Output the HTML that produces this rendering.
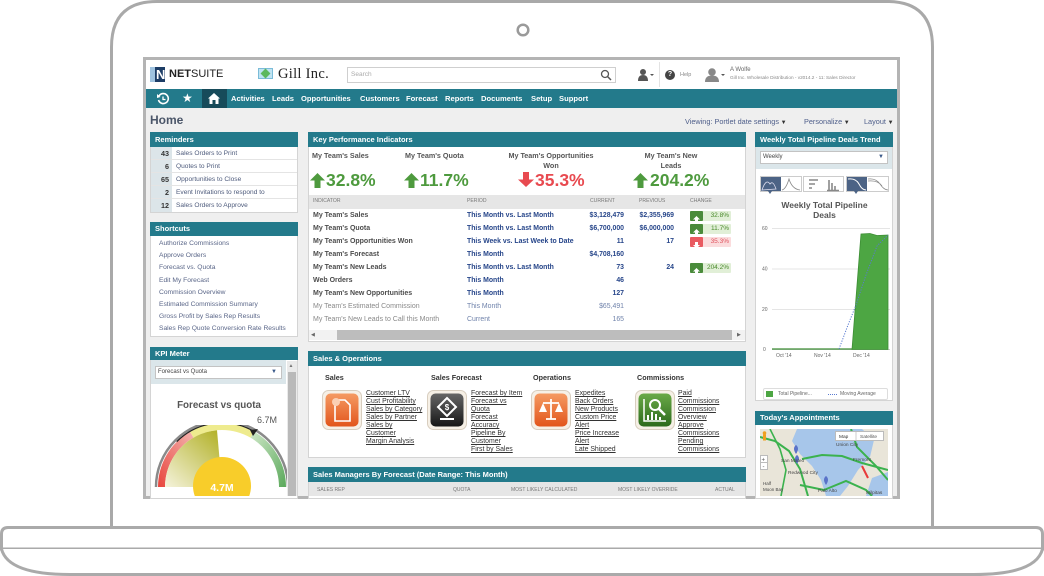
<!DOCTYPE html>
<html><head><meta charset="utf-8">
<style>
*{margin:0;padding:0;box-sizing:border-box}
html,body{width:1044px;height:576px;overflow:hidden;background:#fff}
body{position:relative;font-family:"Liberation Sans",Arial,sans-serif}
.a{position:absolute;white-space:nowrap}
.h{position:absolute;background:#237a8b;color:#fff;font-weight:bold;font-size:7.5px;line-height:14px;height:14px;padding-left:5px;white-space:nowrap;overflow:hidden}
.w{position:absolute;background:#fff;border:1px solid #d4d4d4}
.nav{position:absolute;top:94px;color:#fff;font-weight:bold;font-size:7.6px;line-height:9px;white-space:nowrap}
.rn{position:absolute;left:151px;width:21px;height:13px;background:#dce5e9;font-weight:bold;font-size:7.2px;line-height:13px;text-align:right;padding-right:3px;color:#333}
.rt{position:absolute;left:176px;font-size:6.6px;line-height:13px;color:#4e5b7c;white-space:nowrap}
.rl{position:absolute;left:151px;width:146px;height:1px;background:#e4e4e4}
.sc{position:absolute;left:159px;font-size:6.7px;line-height:10px;color:#5a6688;white-space:nowrap}
.ti{position:absolute;font-weight:bold;font-size:7.2px;line-height:10px;color:#555;white-space:nowrap;text-align:center}
.big{position:absolute;top:171px;font-weight:bold;font-size:17.5px;line-height:18px;white-space:nowrap}
.g{color:#4e9a3e}.r{color:#e84a50}
.th{position:absolute;top:197px;font-size:5.1px;line-height:8px;color:#7a7a7a;white-space:nowrap}
.ci{position:absolute;left:313px;font-weight:bold;font-size:7px;line-height:10px;color:#4c4c4c;white-space:nowrap}
.cp{position:absolute;left:467px;font-weight:bold;font-size:6.9px;line-height:10px;color:#27468a;white-space:nowrap}
.cc{position:absolute;right:420px;font-weight:bold;font-size:6.9px;line-height:10px;color:#27468a;white-space:nowrap;text-align:right}
.cv{position:absolute;right:370px;font-weight:bold;font-size:6.9px;line-height:10px;color:#27468a;white-space:nowrap;text-align:right}
.lt{font-weight:normal !important;color:#8a8a8a !important}
.lb{font-weight:normal !important;color:#7083ab !important}
.bd{position:absolute;left:690px;width:41px;height:10px;background:#e1efd7;border-radius:1px}
.bd i{position:absolute;left:0;top:0;width:13px;height:10px;background:#4a8b3b;border-radius:1px}
.bd b{position:absolute;right:2px;top:0;font-size:6.5px;line-height:10px;color:#4a8a2c;font-weight:normal}
.bd.rd{background:#fbdcdd}.bd.rd i{background:#e95a61}.bd.rd b{color:#e05560}
.hd{position:absolute;top:373px;font-weight:bold;font-size:7.2px;line-height:10px;color:#333;white-space:nowrap}
.ln{position:absolute;top:390px;font-size:6.9px;line-height:8px;color:#333;text-decoration:underline;white-space:nowrap}
.sm{position:absolute;top:486px;font-size:5px;line-height:8px;color:#777;white-space:nowrap}
.rk{position:absolute;top:117px;font-size:7.3px;line-height:9px;color:#4e5e8a;white-space:nowrap}
.ax{position:absolute;font-size:5px;line-height:6px;color:#666;white-space:nowrap}
</style></head><body>

<!-- laptop -->
<svg width="1044" height="576" style="position:absolute;left:0;top:0">
<path d="M111.5 527 V47 Q111.5 1.5 157 1.5 H887 Q932.5 1.5 932.5 47 V527" fill="#fff" stroke="#a9a9a9" stroke-width="3"/>
<circle cx="523" cy="30" r="5.3" fill="none" stroke="#9a9a9a" stroke-width="2.5"/>
<rect x="144.5" y="58.5" width="754" height="439" fill="#efefef" stroke="#b4b4b4" stroke-width="3"/>
<path d="M1.5 534 Q1.5 527.5 8 527.5 H1036 Q1042.5 527.5 1042.5 534 V549 H1.5 Z" fill="#fff" stroke="#aaa" stroke-width="3"/>
<path d="M1.5 549 Q8 574.5 70 574.5 H974 Q1036 574.5 1042.5 549" fill="#fff" stroke="#aaa" stroke-width="3"/>
</svg>

<!-- header -->
<div class="a" style="left:146px;top:60px;width:751px;height:29px;background:#fff"></div>
<div class="a" style="left:150px;top:67px;width:15px;height:15px;background:#1d3d66"></div>
<div class="a" style="left:150px;top:67px;width:5px;height:15px;background:#9fc3e0"></div>
<div class="a" style="left:156px;top:67px;font-weight:bold;font-size:13px;line-height:15px;color:#fff">N</div>
<div class="a" style="left:169px;top:69px;font-weight:bold;font-size:11px;line-height:11px;color:#222">NET<span style="font-weight:normal">SUITE</span></div>
<div class="a" style="left:258px;top:68px;width:15px;height:11px;background:#bfe3f3;border:1px solid #7bbcd8"></div>
<div class="a" style="left:262px;top:70px;width:7px;height:7px;background:#5cb85c;transform:rotate(45deg)"></div>
<div class="a" style="left:278px;top:67px;font-family:'Liberation Serif',serif;font-size:14.5px;line-height:15px;color:#222;letter-spacing:0.3px">Gill Inc.</div>
<div class="a" style="left:347px;top:67px;width:269px;height:16px;border:1px solid #cfcfcf;background:#fff"></div>
<div class="a" style="left:351px;top:71px;font-size:6.5px;line-height:8px;color:#aaa">Search</div>
<svg class="a" style="left:600px;top:69px" width="12" height="12"><circle cx="5" cy="5" r="3.5" fill="none" stroke="#555" stroke-width="1.3"/><line x1="7.5" y1="7.5" x2="11" y2="11" stroke="#555" stroke-width="1.5"/></svg>
<svg class="a" style="left:637px;top:68px" width="18" height="14"><circle cx="6" cy="4" r="3" fill="#555"/><path d="M1 13 Q1 7 6 7 Q11 7 11 13Z" fill="#555"/><path d="M13 6 l2 2 l2 -2z" fill="#555"/></svg>
<div class="a" style="left:659px;top:62px;width:1px;height:25px;background:#e3e3e3"></div>
<div class="a" style="left:665px;top:70px;width:10px;height:10px;border-radius:50%;background:#444;color:#fff;font-weight:bold;font-size:7px;line-height:10px;text-align:center">?</div>
<div class="a" style="left:680px;top:72px;font-size:5.5px;line-height:7px;color:#888">Help</div>
<svg class="a" style="left:703px;top:67px" width="24" height="16"><circle cx="9" cy="5" r="3.8" fill="#888"/><path d="M2 15 Q2 8.5 9 8.5 Q16 8.5 16 15Z" fill="#888"/><path d="M18 7 l2 2 l2 -2z" fill="#555"/></svg>
<div class="a" style="left:730px;top:67px;font-size:6px;line-height:7px;color:#666">A Wolfe</div>
<div class="a" style="left:730px;top:75px;font-size:4.7px;line-height:6px;color:#888">Gill Inc. Wholesale Distribution - v2014.2 - 11: Sales Director</div>

<!-- nav -->
<div class="a" style="left:146px;top:89px;width:751px;height:19px;background:#237a8b"></div>
<svg class="a" style="left:156px;top:92px" width="14" height="14"><path d="M3 4 A5 5 0 1 1 2.5 8" fill="none" stroke="#fff" stroke-width="1.6"/><path d="M1 2 L4.5 5 L1 6Z" fill="#fff"/><path d="M7 4.5 V7.5 H9.5" fill="none" stroke="#fff" stroke-width="1.3"/></svg>
<div class="a" style="left:182px;top:91px;font-size:12px;line-height:14px;color:#fff">★</div>
<div class="a" style="left:202px;top:89px;width:25px;height:19px;background:#174b5a"></div>
<svg class="a" style="left:207px;top:92px" width="14" height="13"><path d="M7 1 L13 6.5 H11.5 V12 H2.5 V6.5 H1Z" fill="#fff"/><rect x="5.5" y="8" width="3" height="4" fill="#174b5a"/></svg>
<div class="nav" style="left:231px">Activities</div>
<div class="nav" style="left:272px">Leads</div>
<div class="nav" style="left:301px">Opportunities</div>
<div class="nav" style="left:360px">Customers</div>
<div class="nav" style="left:406px">Forecast</div>
<div class="nav" style="left:445px">Reports</div>
<div class="nav" style="left:481px">Documents</div>
<div class="nav" style="left:531px">Setup</div>
<div class="nav" style="left:559px">Support</div>

<!-- page title row -->
<div class="a" style="left:150px;top:113px;font-weight:bold;font-size:12px;line-height:14px;color:#4a5568">Home</div>
<div class="rk" style="left:685px">Viewing: Portlet date settings<span style="font-size:6px;color:#333"> ▼</span></div>
<div class="rk" style="left:804px">Personalize<span style="font-size:6px;color:#333"> ▼</span></div>
<div class="rk" style="left:864px">Layout<span style="font-size:6px;color:#333"> ▼</span></div>

<!-- Reminders -->
<div class="w" style="left:150px;top:132px;width:148px;height:81px"></div>
<div class="h" style="left:150px;top:132px;width:148px;height:15px;line-height:15px">Reminders</div>
<div class="rn" style="top:147px">43</div><div class="rt" style="top:147px">Sales Orders to Print</div>
<div class="rl" style="top:159px"></div>
<div class="rn" style="top:160px">6</div><div class="rt" style="top:160px">Quotes to Print</div>
<div class="rl" style="top:172px"></div>
<div class="rn" style="top:173px">65</div><div class="rt" style="top:173px">Opportunities to Close</div>
<div class="rl" style="top:185px"></div>
<div class="rn" style="top:186px">2</div><div class="rt" style="top:186px">Event Invitations to respond to</div>
<div class="rl" style="top:198px"></div>
<div class="rn" style="top:199px">12</div><div class="rt" style="top:199px">Sales Orders to Approve</div>

<!-- Shortcuts -->
<div class="w" style="left:150px;top:222px;width:148px;height:115px"></div>
<div class="h" style="left:150px;top:222px;width:148px">Shortcuts</div>
<div class="sc" style="top:239px">Authorize Commissions</div>
<div class="sc" style="top:251px">Approve Orders</div>
<div class="sc" style="top:263px">Forecast vs. Quota</div>
<div class="sc" style="top:276px">Edit My Forecast</div>
<div class="sc" style="top:288px">Commission Overview</div>
<div class="sc" style="top:300px">Estimated Commission Summary</div>
<div class="sc" style="top:312px">Gross Profit by Sales Rep Results</div>
<div class="sc" style="top:324px">Sales Rep Quote Conversion Rate Results</div>

<!-- KPI meter -->
<div class="w" style="left:150px;top:347px;width:148px;height:152px"></div>
<div class="h" style="left:150px;top:347px;width:148px;height:13px;line-height:13px">KPI Meter</div>
<div class="a" style="left:151px;top:360px;width:135px;height:24px;background:#dbe6ea"></div>
<div class="a" style="left:155px;top:366px;width:127px;height:13px;background:#fff;border:1px solid #c3c3c3"></div>
<div class="a" style="left:158px;top:369px;font-size:6px;line-height:7px;color:#444">Forecast vs Quota</div>
<div class="a" style="left:271px;top:368px;font-size:6px;line-height:8px;color:#3b5a8a">▼</div>
<div class="a" style="left:287px;top:361px;width:10px;height:135px;background:#eaeaea"></div>
<div class="a" style="left:288.5px;top:362px;font-size:5px;line-height:8px;color:#777">▲</div>
<div class="a" style="left:288px;top:372px;width:8px;height:124px;background:#b9b9b9"></div>
<div class="a" style="left:151px;top:400px;width:136px;text-align:center;font-weight:bold;font-size:9.8px;line-height:12px;color:#555">Forecast vs quota</div>
<div class="a" style="left:257px;top:415px;font-size:9px;line-height:10px;color:#555">6.7M</div>
<svg class="a" style="left:151px;top:425px" width="136" height="71" viewBox="151 425 136 71">
<defs>
<linearGradient id="ol" x1="0.9" y1="0" x2="0" y2="1"><stop offset="0" stop-color="#b3b22a"/><stop offset="1" stop-color="#f5f3dc"/></linearGradient>
<linearGradient id="gr" x1="0" y1="0" x2="1" y2="1"><stop offset="0" stop-color="#cfe8c8"/><stop offset="1" stop-color="#5aa85a"/></linearGradient>
<linearGradient id="rd" x1="0" y1="1" x2="1" y2="0"><stop offset="0" stop-color="#e8453c"/><stop offset="1" stop-color="#f4b4b0"/></linearGradient>
</defs>
<path d="M156 487 A66 66 0 0 1 288 487" fill="none" stroke="#8a8a8a" stroke-width="2.5"/>
<path d="M158 487 A64 64 0 0 1 190 431.57 L193.5 437.64 A57 57 0 0 0 165 487Z" fill="url(#rd)"/>
<path d="M190 431.57 A64 64 0 0 1 254 431.57 L250.5 437.64 A57 57 0 0 0 193.5 437.64Z" fill="#eeeb8e"/>
<path d="M254 431.57 A64 64 0 0 1 286 487 L279 487 A57 57 0 0 0 250.5 437.64Z" fill="url(#gr)"/>
<path d="M176.7 441.7 A64 64 0 0 1 255 432" fill="none" stroke="#222" stroke-width="1.2"/>
<path d="M222 487 L165 487 A57 57 0 0 1 217 430.2Z" fill="url(#ol)"/>
<path d="M250 430 L258 429 L253 436Z" fill="#222"/>
<circle cx="222" cy="486" r="29" fill="#f8cd2a"/>
<text x="222" y="491" text-anchor="middle" font-family="Liberation Sans" font-weight="bold" font-size="10.5" fill="#fff">4.7M</text>
</svg>

<!-- KPI portlet -->
<div class="w" style="left:308px;top:132px;width:438px;height:210px"></div>
<div class="h" style="left:308px;top:132px;width:438px;height:15px;line-height:15px">Key Performance Indicators</div>
<div class="ti" style="left:312px;top:151px">My Team's Sales</div>
<div class="ti" style="left:405px;top:151px">My Team's Quota</div>
<div class="ti" style="left:491px;top:151px;width:120px">My Team's Opportunities<br>Won</div>
<div class="ti" style="left:631px;top:151px;width:80px">My Team's New<br>Leads</div>
<svg class="a" style="left:310px;top:173px" width="15" height="15"><polygon points="7.5,0 15,7.5 10.5,7.5 10.5,15 4.5,15 4.5,7.5 0,7.5" fill="#4e9a3e"/></svg>
<div class="big g" style="left:326px">32.8%</div>
<svg class="a" style="left:404px;top:173px" width="15" height="15"><polygon points="7.5,0 15,7.5 10.5,7.5 10.5,15 4.5,15 4.5,7.5 0,7.5" fill="#4e9a3e"/></svg>
<div class="big g" style="left:420px">11.7%</div>
<svg class="a" style="left:518px;top:172px" width="16" height="15"><polygon points="8,15 16,7.5 11,7.5 11,0 5,0 5,7.5 0,7.5" fill="#e84a50"/></svg>
<div class="big r" style="left:535px">35.3%</div>
<svg class="a" style="left:633px;top:173px" width="15" height="15"><polygon points="7.5,0 15,7.5 10.5,7.5 10.5,15 4.5,15 4.5,7.5 0,7.5" fill="#4e9a3e"/></svg>
<div class="big g" style="left:650px">204.2%</div>
<div class="a" style="left:309px;top:195px;width:436px;height:14px;background:#e6e6e6"></div>
<div class="th" style="left:313px">INDICATOR</div>
<div class="th" style="left:467px">PERIOD</div>
<div class="th" style="left:590px">CURRENT</div>
<div class="th" style="left:639px">PREVIOUS</div>
<div class="th" style="left:690px">CHANGE</div>

<div class="ci" style="top:211px">My Team's Sales</div><div class="cp" style="top:211px">This Month vs. Last Month</div><div class="cc" style="top:211px">$3,128,479</div><div class="cv" style="top:211px">$2,355,969</div>
<div class="ci" style="top:224px">My Team's Quota</div><div class="cp" style="top:224px">This Month vs. Last Month</div><div class="cc" style="top:224px">$6,700,000</div><div class="cv" style="top:224px">$6,000,000</div>
<div class="ci" style="top:237px">My Team's Opportunities Won</div><div class="cp" style="top:237px">This Week vs. Last Week to Date</div><div class="cc" style="top:237px">11</div><div class="cv" style="top:237px">17</div>
<div class="ci" style="top:250px">My Team's Forecast</div><div class="cp" style="top:250px">This Month</div><div class="cc" style="top:250px">$4,708,160</div>
<div class="ci" style="top:263px">My Team's New Leads</div><div class="cp" style="top:263px">This Month vs. Last Month</div><div class="cc" style="top:263px">73</div><div class="cv" style="top:263px">24</div>
<div class="ci" style="top:276px">Web Orders</div><div class="cp" style="top:276px">This Month</div><div class="cc" style="top:276px">46</div>
<div class="ci" style="top:289px">My Team's New Opportunities</div><div class="cp" style="top:289px">This Month</div><div class="cc" style="top:289px">127</div>
<div class="ci lt" style="top:302px">My Team's Estimated Commission</div><div class="cp lb" style="top:302px">This Month</div><div class="cc lb" style="top:302px">$65,491</div>
<div class="ci lt" style="top:315px">My Team's New Leads to Call this Month</div><div class="cp lb" style="top:315px">Current</div><div class="cc lb" style="top:315px">165</div>

<div class="bd" style="top:211px"><i><svg width="13" height="10"><polygon points="6.5,2 10,5.5 8,5.5 8,8.5 5,8.5 5,5.5 3,5.5" fill="#fff"/></svg></i><b>32.8%</b></div>
<div class="bd" style="top:224px"><i><svg width="13" height="10"><polygon points="6.5,2 10,5.5 8,5.5 8,8.5 5,8.5 5,5.5 3,5.5" fill="#fff"/></svg></i><b>11.7%</b></div>
<div class="bd rd" style="top:237px"><i><svg width="13" height="10"><polygon points="6.5,8.5 10,5 8,5 8,2 5,2 5,5 3,5" fill="#fff"/></svg></i><b>35.3%</b></div>
<div class="bd" style="top:263px"><i><svg width="13" height="10"><polygon points="6.5,2 10,5.5 8,5.5 8,8.5 5,8.5 5,5.5 3,5.5" fill="#fff"/></svg></i><b>204.2%</b></div>

<div class="a" style="left:309px;top:330px;width:436px;height:10px;background:#f2f2f2"></div>
<div class="a" style="left:337px;top:330px;width:395px;height:10px;background:#bdbdbd"></div>
<div class="a" style="left:311px;top:331px;font-size:5px;line-height:8px;color:#666">◀</div>
<div class="a" style="left:737px;top:331px;font-size:5px;line-height:8px;color:#666">▶</div>

<!-- Sales & Operations -->
<div class="w" style="left:308px;top:351px;width:438px;height:107px"></div>
<div class="h" style="left:308px;top:351px;width:438px;height:15px;line-height:15px">Sales &amp; Operations</div>
<div class="hd" style="left:325px">Sales</div>
<div class="hd" style="left:431px">Sales Forecast</div>
<div class="hd" style="left:533px">Operations</div>
<div class="hd" style="left:637px">Commissions</div>
<svg class="a" style="left:322px;top:390px" width="40" height="40">
<defs><linearGradient id="og" x1="0" y1="0" x2="0" y2="1"><stop offset="0" stop-color="#f59a62"/><stop offset="1" stop-color="#e2561c"/></linearGradient></defs>
<rect x="0.5" y="0.5" width="39" height="39" rx="6" fill="#f6f0e6" stroke="#d8cebf"/>
<rect x="3.5" y="3.5" width="33" height="33" rx="5" fill="url(#og)"/>
<path d="M13 10 H23 L28 15 V31 H13Z" fill="none" stroke="#fff" stroke-width="1.6"/>
<circle cx="14" cy="12" r="4" fill="#fbd0b4"/>
</svg>
<svg class="a" style="left:427px;top:390px" width="40" height="40">
<defs><linearGradient id="bk" x1="0" y1="0" x2="0" y2="1"><stop offset="0" stop-color="#666"/><stop offset="1" stop-color="#161616"/></linearGradient></defs>
<rect x="0.5" y="0.5" width="39" height="39" rx="6" fill="#f6f0e6" stroke="#d8cebf"/>
<rect x="3.5" y="3.5" width="33" height="33" rx="5" fill="url(#bk)"/>
<path d="M20 8 L29 17 L20 26 L11 17Z" fill="none" stroke="#fff" stroke-width="2"/>
<text x="20" y="20" text-anchor="middle" font-family="Liberation Sans" font-weight="bold" font-size="8" fill="#fff">$</text>
<path d="M13 29 H27" stroke="#fff" stroke-width="2"/>
</svg>
<svg class="a" style="left:531px;top:390px" width="40" height="40">
<rect x="0.5" y="0.5" width="39" height="39" rx="6" fill="#f6f0e6" stroke="#d8cebf"/>
<rect x="3.5" y="3.5" width="33" height="33" rx="5" fill="url(#og)"/>
<path d="M20 9 V29 M12 13 H28 M15 29 H25" stroke="#fff" stroke-width="1.8"/>
<path d="M8 22 L12 13 L16 22Z M24 22 L28 13 L32 22Z" fill="#fff"/>
</svg>
<svg class="a" style="left:635px;top:390px" width="40" height="40">
<defs><linearGradient id="gn" x1="0" y1="0" x2="0" y2="1"><stop offset="0" stop-color="#6aaa48"/><stop offset="1" stop-color="#2c6a1c"/></linearGradient></defs>
<rect x="0.5" y="0.5" width="39" height="39" rx="6" fill="#f6f0e6" stroke="#d8cebf"/>
<rect x="3.5" y="3.5" width="33" height="33" rx="5" fill="url(#gn)"/>
<path d="M9 9 V31 H31" fill="none" stroke="#fff" stroke-width="1.5"/>
<path d="M13 30 V25 M17 30 V22 M21 30 V24 M25 30 V27" stroke="#fff" stroke-width="2"/>
<circle cx="20" cy="15" r="5" fill="none" stroke="#fff" stroke-width="2"/>
<path d="M24 19 L30 25" stroke="#fff" stroke-width="2.5"/>
</svg>
<div class="ln" style="left:366px">Customer LTV<br>Cust Profitability<br>Sales by Category<br>Sales by Partner<br>Sales by<br>Customer<br>Margin Analysis</div>
<div class="ln" style="left:471px">Forecast by Item<br>Forecast vs<br>Quota<br>Forecast<br>Accuracy<br>Pipeline By<br>Customer<br>First by Sales</div>
<div class="ln" style="left:575px">Expedites<br>Back Orders<br>New Products<br>Custom Price<br>Alert<br>Price Increase<br>Alert<br>Late Shipped</div>
<div class="ln" style="left:678px">Paid<br>Commissions<br>Commission<br>Overview<br>Approve<br>Commissions<br>Pending<br>Commissions</div>

<!-- Sales Managers -->
<div class="w" style="left:308px;top:467px;width:438px;height:32px"></div>
<div class="h" style="left:308px;top:467px;width:438px;height:15px;line-height:15px">Sales Managers By Forecast (Date Range: This Month)</div>
<div class="a" style="left:309px;top:482px;width:436px;height:14px;background:#e6e6e6"></div>
<div class="sm" style="left:317px">SALES REP</div>
<div class="sm" style="left:453px">QUOTA</div>
<div class="sm" style="left:511px">MOST LIKELY CALCULATED</div>
<div class="sm" style="left:618px">MOST LIKELY OVERRIDE</div>
<div class="sm" style="left:715px">ACTUAL</div>

<!-- Weekly pipeline -->
<div class="w" style="left:755px;top:132px;width:138px;height:269px"></div>
<div class="h" style="left:755px;top:132px;width:138px;height:15px;line-height:15px">Weekly Total Pipeline Deals Trend</div>
<div class="a" style="left:756px;top:147px;width:136px;height:22px;background:#dbe6ea"></div>
<div class="a" style="left:760px;top:151px;width:128px;height:13px;background:#fff;border:1px solid #c3c3c3"></div>
<div class="a" style="left:763px;top:154px;font-size:6px;line-height:7px;color:#444">Weekly</div>
<div class="a" style="left:878px;top:153px;font-size:6px;line-height:8px;color:#3b5a8a">▼</div>
<svg class="a" style="left:758px;top:174px" width="134" height="22" viewBox="758 174 134 22">
<rect x="760.5" y="176.5" width="41" height="15" fill="#fff" stroke="#ccc"/>
<rect x="761" y="177" width="20" height="14" fill="#4c6385"/>
<path d="M762 190 Q766 178 770 184 Q773 180 776 189 Z" fill="none" stroke="#dde" stroke-width="0.8"/>
<path d="M782 190 Q786 189 789 179 Q792 189 800 190" fill="none" stroke="#888" stroke-width="0.8"/>
<polygon points="768,191 772,191 770,194" fill="#4c6385"/>
<rect x="803.5" y="176.5" width="40" height="15" fill="#fff" stroke="#ccc"/>
<path d="M809 180 H818 M809 184 H815 M809 188 H812" stroke="#888" stroke-width="1.6"/>
<path d="M829 190 V180 M832 190 V183 M835 190 V186 M827 190.5 H839" stroke="#888" stroke-width="1.6"/>
<rect x="846.5" y="176.5" width="42" height="15" fill="#fff" stroke="#ccc"/>
<rect x="847" y="177" width="20" height="14" fill="#4c6385"/>
<path d="M848 179 Q856 178 859 184 Q862 190 866 190" fill="none" stroke="#fff" stroke-width="1"/>
<path d="M868 179 Q876 178 880 184 Q884 190 888 190 M868 181 Q878 180 882 186" fill="none" stroke="#888" stroke-width="0.7"/>
<polygon points="854,191 858,191 856,194" fill="#4c6385"/>
</svg>
<div class="a" style="left:756px;top:200px;width:137px;text-align:center;font-weight:bold;font-size:8.5px;line-height:10px;color:#555">Weekly Total Pipeline<br>Deals</div>
<svg class="a" style="left:756px;top:222px" width="136" height="140" viewBox="756 222 136 140">
<path d="M772 228.5 H890 M772 269 H890 M772 309.5 H890" stroke="#ddd" stroke-width="0.8"/>
<path d="M772 349.5 H890" stroke="#bbb" stroke-width="0.8"/>
<polygon points="852,349.5 861,234 870,233.5 877,235.5 888,235 888,349.5" fill="#4da643" stroke="#3d8e35" stroke-width="0.8"/>
<path d="M772 349 H852" stroke="#3d8e35" stroke-width="1.2"/>
<path d="M839 349 L848 325 L856 305 L866 275 L877 246 L888 235" fill="none" stroke="#5a7bd0" stroke-width="1" stroke-dasharray="1.2 1.4"/>
<text x="762" y="230" font-family="Liberation Sans" font-size="5" fill="#666">60</text>
<text x="762" y="270.5" font-family="Liberation Sans" font-size="5" fill="#666">40</text>
<text x="762" y="311" font-family="Liberation Sans" font-size="5" fill="#666">20</text>
<text x="763" y="351" font-family="Liberation Sans" font-size="5" fill="#666">0</text>
<text x="776" y="357" font-family="Liberation Sans" font-size="5" fill="#666">Oct '14</text>
<text x="814" y="357" font-family="Liberation Sans" font-size="5" fill="#666">Nov '14</text>
<text x="853" y="357" font-family="Liberation Sans" font-size="5" fill="#666">Dec '14</text>
</svg>
<div class="a" style="left:763px;top:388px;width:125px;height:12px;border:1px solid #ddd;border-radius:2px"></div>
<div class="a" style="left:766px;top:391px;width:7px;height:6px;background:#4da643"></div>
<div class="ax" style="left:778px;top:391px">Total Pipeline...</div>
<div class="a" style="left:828px;top:393.5px;width:9px;border-top:1px dotted #5a7bd0"></div>
<div class="ax" style="left:840px;top:391px">Moving Average</div>

<!-- Appointments -->
<div class="w" style="left:755px;top:411px;width:138px;height:88px"></div>
<div class="h" style="left:755px;top:411px;width:138px;height:14px">Today's Appointments</div>
<svg class="a" style="left:760px;top:429px" width="128" height="67" viewBox="760 429 128 67">
<rect x="760" y="429" width="128" height="67" fill="#e9e5d9"/>
<polygon points="797,429 862,429 874,440 870,457 858,470 848,486 840,496 826,496 821,480 812,466 800,454 792,441" fill="#a7c6ea"/>
<polygon points="872,478 888,472 888,496 866,496" fill="#a7c6ea"/>
<path d="M760 437 L775 441 L789 451 L800 469 L808 496" fill="none" stroke="#3bb24e" stroke-width="2"/>
<path d="M802 459 L822 455 L842 456 L862 463 L888 470" fill="none" stroke="#3bb24e" stroke-width="2"/>
<path d="M851 429 L857 447 L876 466 L888 480" fill="none" stroke="#3bb24e" stroke-width="2"/>
<path d="M800 485 L824 490 L846 481 L866 490 L872 496" fill="none" stroke="#3bb24e" stroke-width="2"/>
<path d="M770 429 L780 449 L786 470 L781 496" fill="none" stroke="#3bb24e" stroke-width="1.6"/>
<path d="M862 466 L868 478" stroke="#e83a3a" stroke-width="2"/>
<rect x="835.5" y="431.5" width="48" height="9" fill="#fff" stroke="#bbb"/>
<path d="M856 432 V440" stroke="#ccc"/>
<text x="839" y="438" font-family="Liberation Sans" font-size="4.8" fill="#333">Map</text>
<text x="860" y="438" font-family="Liberation Sans" font-size="4.8" fill="#555">Satellite</text>
<circle cx="764.5" cy="433" r="1.8" fill="#f0a020"/>
<rect x="763" y="434.5" width="3" height="6" fill="#f0a020"/>
<rect x="760.5" y="455.5" width="7" height="7" fill="#fff" stroke="#bbb"/>
<rect x="760.5" y="462.5" width="7" height="7" fill="#fff" stroke="#bbb"/>
<text x="761.5" y="461.5" font-family="Liberation Sans" font-size="6" fill="#555">+</text>
<text x="762.5" y="468.5" font-family="Liberation Sans" font-size="6" fill="#555">-</text>
<path d="M796 454 Q792 448 796 445 Q800 448 796 454Z" fill="#5a72c8"/>
<path d="M797 464 Q793 458 797 455 Q801 458 797 464Z" fill="#5a72c8"/>
<path d="M826 485 Q822 479 826 476 Q830 479 826 485Z" fill="#5a72c8"/>
<text x="836" y="446" font-family="Liberation Sans" font-size="4.8" fill="#444">Union City</text>
<text x="853" y="461" font-family="Liberation Sans" font-size="4.8" fill="#444">Fremont</text>
<text x="781" y="462" font-family="Liberation Sans" font-size="4.8" fill="#444">San Mateo</text>
<text x="788" y="474" font-family="Liberation Sans" font-size="4.8" fill="#444">Redwood City</text>
<text x="818" y="492" font-family="Liberation Sans" font-size="4.8" fill="#444">Palo Alto</text>
<text x="763" y="485" font-family="Liberation Sans" font-size="4.5" fill="#444">Half</text>
<text x="763" y="491" font-family="Liberation Sans" font-size="4.5" fill="#444">Moon Bay</text>
<text x="866" y="494" font-family="Liberation Sans" font-size="4.8" fill="#444">Milpitas</text>
</svg>

</body></html>
